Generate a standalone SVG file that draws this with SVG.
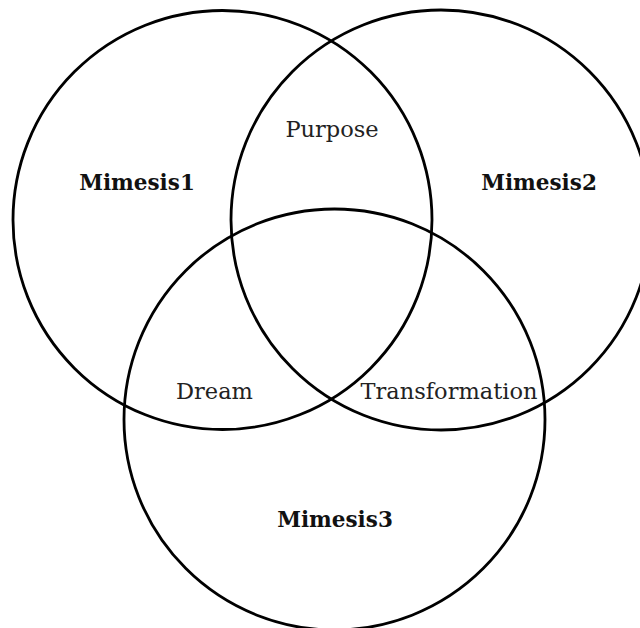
<svg xmlns="http://www.w3.org/2000/svg" width="640" height="628" viewBox="0 0 640 628">
  <style>
    .set { fill: none; stroke: #000; stroke-width: 2.8; }
    .name { font-family: "DejaVu Serif", "Liberation Serif", serif; font-size: 21.5px; font-weight: bold; text-anchor: middle; fill: #111; }
    .overlap { font-family: "DejaVu Serif", "Liberation Serif", serif; font-size: 22.5px; text-anchor: middle; fill: #222; }
  </style>
  <rect width="640" height="628" fill="#fff"/>
  <g id="mimesis1">
    <circle class="set" cx="222.5" cy="220" r="209.5"/>
    <text class="name" x="137" y="190">Mimesis1</text>
  </g>
  <g id="mimesis2">
    <circle class="set" cx="441" cy="220" r="210"/>
    <text class="name" x="539" y="190">Mimesis2</text>
  </g>
  <g id="mimesis3">
    <circle class="set" cx="334.5" cy="419.5" r="210.5"/>
    <text class="name" x="335" y="527">Mimesis3</text>
  </g>
  <g id="purpose">
    <text class="overlap" x="332" y="137">Purpose</text>
  </g>
  <g id="dream">
    <text class="overlap" x="214.5" y="399">Dream</text>
  </g>
  <g id="transformation">
    <text class="overlap" x="449" y="399">Transformation</text>
  </g>
</svg>
